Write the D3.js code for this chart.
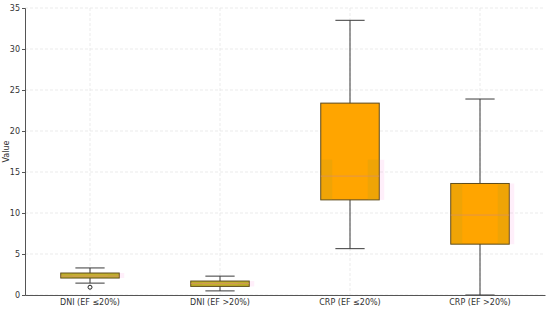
<!DOCTYPE html>
<html>
<head>
<meta charset="utf-8">
<script src="https://cdn.jsdelivr.net/npm/d3@7"></script>
<style>
  body { margin: 0; background: #fff; }
  text { font-family: "DejaVu Sans", sans-serif; }
</style>
</head>
<body>
<div id="chart"></div>
<script>
// values
var categories = ["DNI (EF \u226420%)", "DNI (EF >20%)", "CRP (EF \u226420%)", "CRP (EF >20%)"];
var whiskLow  = [1.45, 0.5, 5.65, 0.0];
var q1        = [2.07, 1.05, 11.6, 6.2];
var medians   = [2.3, 1.4, 14.5, 9.75];
var q3        = [2.68, 1.7, 23.4, 13.6];
var whiskHigh = [3.3, 2.3, 33.5, 23.9];
var outliers  = [[0.95], [], [], []];
var fills     = ["#c4b12e", "#c4b12e", "#ffa500", "#ffa500"];
// faint tinted band seen inside the boxes
var shadeLo   = [2.07, 1.05, 11.6, 6.2];
var shadeHi   = [2.68, 1.7, 16.5, 13.6];
var yTicks    = [0, 5, 10, 15, 20, 25, 30, 35];

var W = 550, H = 310;
var margin = {top: 8, right: 5, bottom: 15, left: 25};
var iw = W - margin.left - margin.right;
var ih = H - margin.top - margin.bottom;

var svg = d3.select("#chart").append("svg")
    .attr("width", W).attr("height", H);
var g = svg.append("g")
    .attr("transform", "translate(" + margin.left + "," + margin.top + ")");

var x = d3.scaleBand().domain(categories).range([0, iw]);
var y = d3.scaleLinear().domain([0, 35]).range([ih, 0]);
var boxW = x.bandwidth() * 0.45;

// grid
g.selectAll(".hgrid").data(yTicks).enter().append("line")
    .attr("x1", 0).attr("x2", iw)
    .attr("y1", d => y(d)).attr("y2", d => y(d))
    .style("stroke", "#e6e6e6").style("stroke-dasharray", "3,2").style("stroke-width", 0.8);
g.selectAll(".vgrid").data(categories).enter().append("line")
    .attr("x1", d => x(d) + x.bandwidth() / 2).attr("x2", d => x(d) + x.bandwidth() / 2)
    .attr("y1", 0).attr("y2", ih)
    .style("stroke", "#e6e6e6").style("stroke-dasharray", "3,2").style("stroke-width", 0.8);

var rows = categories.map((c, i) => ({c: c, i: i}));
var cx = d => x(d.c) + x.bandwidth() / 2;

// whiskers
g.selectAll(".whisk").data(rows).enter().append("line")
    .attr("x1", cx).attr("x2", cx)
    .attr("y1", d => y(whiskLow[d.i])).attr("y2", d => y(whiskHigh[d.i]))
    .style("stroke", "#3a3a3a").style("stroke-width", 1);
[whiskLow, whiskHigh].forEach(function(arr) {
    g.selectAll(null).data(rows).enter().append("line")
        .attr("x1", d => cx(d) - boxW / 4).attr("x2", d => cx(d) + boxW / 4)
        .attr("y1", d => y(arr[d.i])).attr("y2", d => y(arr[d.i]))
        .style("stroke", "#3a3a3a").style("stroke-width", 1);
});

// boxes
g.selectAll(".box").data(rows).enter().append("rect")
    .attr("x", d => cx(d) - boxW / 2)
    .attr("y", d => y(q3[d.i]))
    .attr("width", boxW)
    .attr("height", d => y(q1[d.i]) - y(q3[d.i]))
    .style("fill", d => fills[d.i])
    .style("stroke", "#5c4a1c").style("stroke-width", 1);

// tinted strips
g.selectAll(".pink").data(rows).enter().append("rect")
    .attr("x", d => cx(d) + boxW / 2)
    .attr("y", d => y(shadeHi[d.i]))
    .attr("width", 5)
    .attr("height", d => y(shadeLo[d.i]) - y(shadeHi[d.i]))
    .style("fill", "#ff66cc").style("opacity", 0.1);
[-1, 1].forEach(function(side) {
    g.selectAll(null).data(rows).enter().append("rect")
        .attr("x", d => side < 0 ? cx(d) - boxW / 2 + 0.5 : cx(d) + boxW / 2 - 11.5)
        .attr("y", d => y(shadeHi[d.i]))
        .attr("width", 11)
        .attr("height", d => y(shadeLo[d.i]) - y(shadeHi[d.i]))
        .style("fill", "#a8a020").style("opacity", 0.18);
});

// medians
g.selectAll(".med").data(rows).enter().append("line")
    .attr("x1", d => cx(d) - boxW / 2).attr("x2", d => cx(d) + boxW / 2)
    .attr("y1", d => y(medians[d.i])).attr("y2", d => y(medians[d.i]))
    .style("stroke", "#d8906a").style("stroke-width", 1).style("opacity", 0.7);

// outliers
rows.forEach(function(r) {
    g.selectAll(null).data(outliers[r.i]).enter().append("circle")
        .attr("cx", cx(r)).attr("cy", d => y(d)).attr("r", 2)
        .style("fill", "none").style("stroke", "#222").style("stroke-width", 1);
});

// axes
var yAxis = d3.axisLeft(y).tickValues(yTicks).tickSize(3).tickPadding(2);
var ya = g.append("g").call(yAxis);
var xa = g.append("g").attr("transform", "translate(0," + ih + ")")
    .call(d3.axisBottom(x).tickSize(0).tickPadding(4));
[ya, xa].forEach(function(a) {
    a.select(".domain").style("stroke", "#555");
    a.selectAll(".tick line").style("stroke", "#555");
    a.selectAll("text").style("font-size", "8px").style("fill", "#333")
        .style("font-family", "DejaVu Sans, sans-serif");
});

svg.append("text")
    .attr("transform", "translate(9," + (margin.top + ih / 2) + ") rotate(-90)")
    .attr("text-anchor", "middle")
    .style("font-size", "8px").style("fill", "#333")
    .text("Value");
</script>
</body>
</html>
